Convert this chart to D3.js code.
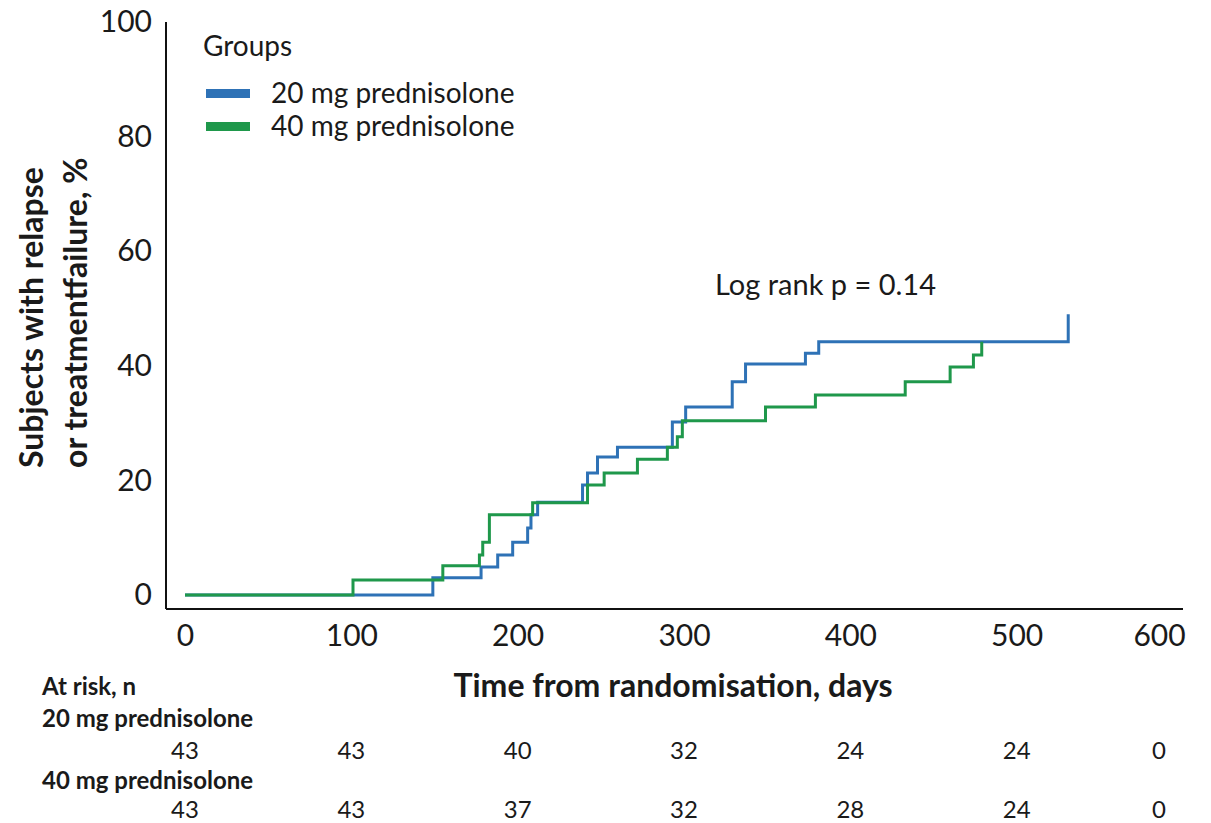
<!DOCTYPE html>
<html>
<head>
<meta charset="utf-8">
<script src="https://d3js.org/d3.v7.min.js"></script>
<style>
body { margin: 0; background: #fff; }
text { font-family: Lato, sans-serif; fill: #1a1a1a; }
.bold { font-weight: bold; }
</style>
</head>
<body>
<div id="container"></div>
<script>
// step times (days) and cumulative % with relapse/failure
var days20 = [0, 149, 178, 188, 197, 206, 208, 212, 239, 242, 248, 260, 293, 301, 329, 337, 373, 381, 531];
var pct20  = [0, 3.0, 4.9, 7.0, 9.2, 11.7, 14.0, 16.2, 19.2, 21.3, 24.1, 25.8, 30.2, 32.8, 37.2, 40.3, 42.2, 44.2, 49.0];
var days40 = [0, 101, 155, 177, 179, 183, 209, 242, 252, 272, 290, 296, 299, 349, 379, 433, 460, 474, 479];
var pct40  = [0, 2.6, 5.1, 7.0, 9.2, 14.0, 16.1, 19.2, 21.3, 23.7, 25.8, 27.6, 30.4, 32.8, 34.9, 37.2, 39.8, 41.9, 44.2];

var groups = ["20 mg prednisolone", "40 mg prednisolone"];
var colors = ["#2e72b6", "#1f984b"];

var xTicks = [0, 100, 200, 300, 400, 500, 600];
var yTicks = [0, 20, 40, 60, 80, 100];
var risk20 = [43, 43, 40, 32, 24, 24, 0];
var risk40 = [43, 43, 37, 32, 28, 24, 0];

var width = 1211, height = 823;
var axisX = 166, axisY = 609;

var svg = d3.select("#container").append("svg")
    .attr("width", width)
    .attr("height", height);

var x = d3.scaleLinear().domain([0, 600]).range([185, 1183]);
var y = d3.scaleLinear().domain([0, 100]).range([595, 22]);

// tick label position; the last one is pulled inside the axis end
function labelX(d, i) {
    return i === xTicks.length - 1 ? x(d) - 24 : x(d);
}

// axes
var yAxis = svg.append("g")
    .attr("transform", "translate(" + axisX + ",0)")
    .call(d3.axisLeft(y).tickValues(yTicks).tickSize(0).tickPadding(14));
yAxis.select(".domain").remove();
yAxis.selectAll("text").style("font-size", "30px").style("font-family", "Lato, sans-serif");

var xAxis = svg.append("g")
    .attr("transform", "translate(0," + axisY + ")")
    .call(d3.axisBottom(x).tickValues(xTicks).tickSize(0).tickPadding(16));
xAxis.select(".domain").remove();
xAxis.selectAll("text").style("font-size", "30px").style("font-family", "Lato, sans-serif")
    .attr("x", function(d, i) { return labelX(d, i) - x(d); });

svg.append("line")
    .attr("x1", axisX).attr("x2", axisX)
    .attr("y1", y(100)).attr("y2", axisY)
    .attr("stroke", "#111").attr("stroke-width", 2);
svg.append("line")
    .attr("x1", axisX).attr("x2", x(600))
    .attr("y1", axisY).attr("y2", axisY)
    .attr("stroke", "#111").attr("stroke-width", 2);

// curves
var line = d3.line()
    .x(function(d) { return x(d[0]); })
    .y(function(d) { return y(d[1]); })
    .curve(d3.curveStepAfter);

var series = [d3.zip(days20, pct20), d3.zip(days40, pct40)];

svg.selectAll(".km")
    .data(series)
    .enter()
    .append("path")
    .attr("class", "km")
    .attr("d", line)
    .attr("fill", "none")
    .attr("stroke", function(d, i) { return colors[i]; })
    .attr("stroke-width", 3);

// legend
svg.append("text")
    .attr("x", 203).attr("y", 56)
    .style("font-size", "28px")
    .text("Groups");

var legend = svg.selectAll(".legend")
    .data(groups)
    .enter()
    .append("g")
    .attr("class", "legend")
    .attr("transform", function(d, i) { return "translate(206," + (89 + i * 33) + ")"; });

legend.append("rect")
    .attr("width", 44).attr("height", 9)
    .attr("fill", function(d, i) { return colors[i]; });

legend.append("text")
    .attr("x", 65).attr("y", 14)
    .style("font-size", "28px")
    .text(function(d) { return d; });

svg.append("text")
    .attr("x", 715).attr("y", 295)
    .style("font-size", "29px")
    .text("Log rank p = 0.14");

// axis titles
svg.append("text")
    .attr("class", "bold")
    .attr("x", 673).attr("y", 697)
    .attr("text-anchor", "middle")
    .style("font-size", "32px")
    .text("Time from randomisation, days");

svg.append("text")
    .attr("class", "bold")
    .attr("transform", "rotate(-90)")
    .attr("x", -468).attr("y", 43)
    .style("font-size", "32px")
    .text("Subjects with relapse");

svg.append("text")
    .attr("class", "bold")
    .attr("transform", "rotate(-90)")
    .attr("x", -468).attr("y", 87)
    .style("font-size", "32px")
    .text("or treatmentfailure, %");

// at-risk table
svg.append("text").attr("class", "bold")
    .attr("x", 42).attr("y", 695)
    .style("font-size", "24px")
    .text("At risk, n");

var rows = [risk20, risk40];

rows.forEach(function(r, k) {
    svg.append("text").attr("class", "bold")
        .attr("x", 42).attr("y", 727 + k * 62)
        .style("font-size", "24px")
        .text(groups[k]);

    svg.selectAll(".risk" + k)
        .data(r)
        .enter()
        .append("text")
        .attr("class", "risk" + k)
        .attr("x", function(d, i) { return labelX(xTicks[i], i); })
        .attr("y", 759 + k * 59)
        .attr("text-anchor", "middle")
        .style("font-size", "24px")
        .text(function(d) { return d; });
});
</script>
</body>
</html>
